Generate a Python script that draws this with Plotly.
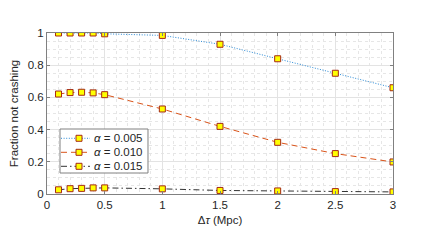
import plotly.graph_objects as go

x_vals = [0.1, 0.2, 0.3, 0.4, 0.5, 1.0, 1.5, 2.0, 2.5, 3.0]
y_005 = [1.0, 1.0, 1.0, 1.0, 0.995, 0.985, 0.93, 0.84, 0.75, 0.66]
y_010 = [0.621, 0.63, 0.632, 0.628, 0.617, 0.528, 0.42, 0.321, 0.251, 0.199]
y_015 = [0.026, 0.033, 0.035, 0.038, 0.038, 0.032, 0.022, 0.019, 0.015, 0.013]
names = ["<i>α</i> = 0.005", "<i>α</i> = 0.010", "<i>α</i> = 0.015"]
x_ticks = [0, 0.5, 1, 1.5, 2, 2.5, 3]
x_ticktext = ["0", "0.5", "1", "1.5", "2", "2.5", "3"]
y_ticks = [0, 0.2, 0.4, 0.6, 0.8, 1]
y_ticktext = ["0", "0.2", "0.4", "0.6", "0.8", "1"]

styles = [("#2a8ad6", "1px,1.6px"), ("#D95319", "6px,4px"), ("#333333", "6px,3px,1.5px,3px")]
mk_fill, mk_edge = "#FFFF00", "#A52A16"
marker = dict(symbol="square", size=6, color=mk_fill, line=dict(color=mk_edge, width=1))

fig = go.Figure()
for ys, nm, (c, d) in zip([y_005, y_010, y_015], names, styles):
    fig.add_trace(go.Scatter(x=x_vals, y=ys, name=nm, mode="lines+markers", showlegend=False,
                             line=dict(color=c, dash=d, width=1), marker=marker))

axis_common = dict(showline=True, linecolor="#808080", linewidth=1, mirror="ticks",
                   ticks="inside", ticklen=3, tickcolor="#808080",
                   showgrid=True, gridcolor="#e3e3e3", gridwidth=1, zeroline=False,
                   automargin=False,
                   tickfont=dict(size=11.5, color="#262626"))

fig.update_xaxes(range=[0, 3], tickvals=x_ticks, ticktext=x_ticktext,
                 minor=dict(dtick=0.1, showgrid=True, griddash="dot", gridcolor="#e6e6e6", ticks=""),
                 title=dict(text="Δ<i>τ</i> (Mpc)", font=dict(size=11.5, color="#262626"), standoff=6),
                 **axis_common)
fig.update_yaxes(range=[0, 1], tickvals=y_ticks, ticktext=y_ticktext,
                 minor=dict(dtick=0.05, showgrid=True, griddash="dot", gridcolor="#e6e6e6", ticks=""),
                 title=dict(text="Fraction not crashing", font=dict(size=11.5, color="#262626"), standoff=9),
                 **axis_common)

# Custom compact legend (paper coordinates of the plot area)
leg_box = dict(x0=0.0376, x1=0.2919, y0=0.1304, y1=0.4037)
row_y = [0.346, 0.259, 0.172]
sample_x0, sample_x1, marker_x, text_x = 0.0405, 0.1243, 0.0925, 0.130

fig.add_shape(type="rect", xref="paper", yref="paper", layer="above",
              line=dict(color="#808080", width=1), fillcolor="white", **leg_box)
for ry, nm, (c, d) in zip(row_y, names, styles):
    fig.add_shape(type="line", xref="paper", yref="paper", layer="above",
                  x0=sample_x0, x1=sample_x1, y0=ry, y1=ry, line=dict(color=c, dash=d, width=1))
    fig.add_shape(type="rect", xref="paper", yref="paper", layer="above",
                  xsizemode="pixel", ysizemode="pixel", xanchor=marker_x, yanchor=ry,
                  x0=-3, x1=3, y0=-3, y1=3, fillcolor=mk_fill, line=dict(color=mk_edge, width=1))
    fig.add_annotation(text=nm, xref="paper", yref="paper", x=text_x, y=ry,
                       xanchor="left", yanchor="middle", showarrow=False,
                       font=dict(size=11.5, color="#262626"))

fig.update_layout(width=425, height=246,
                  margin=dict(l=39, r=40, t=25, b=60),
                  paper_bgcolor="white", plot_bgcolor="white",
                  font=dict(family="Liberation Sans, Arial, sans-serif", size=11.5, color="#262626"),
                  showlegend=False)

fig.write_html("out.html")
